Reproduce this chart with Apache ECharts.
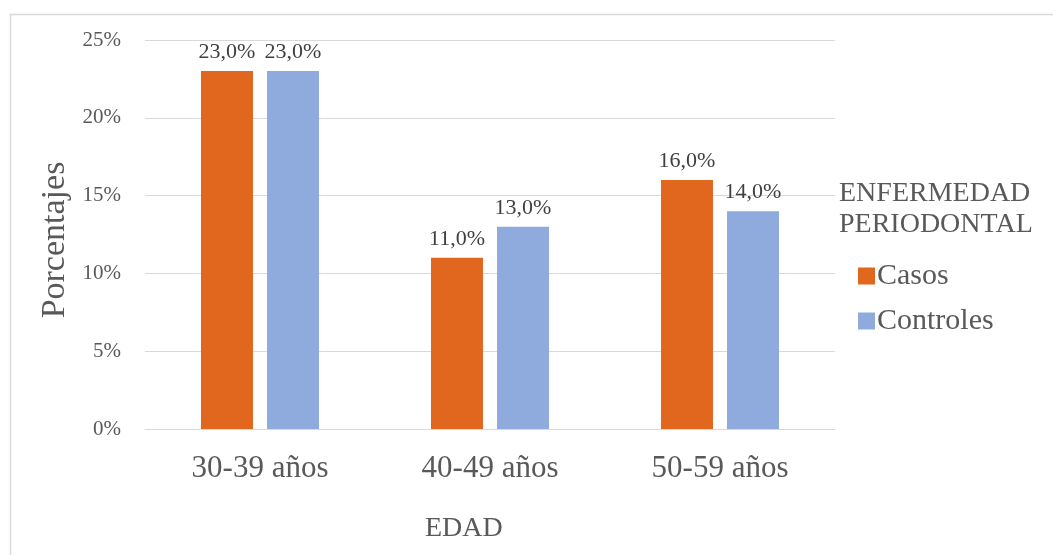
<!DOCTYPE html>
<html>
<head>
<meta charset="utf-8">
<style>
  html, body { margin: 0; padding: 0; background: #ffffff; }
  #chart { width: 1053px; height: 555px; }
</style>
<script src="https://cdn.jsdelivr.net/npm/echarts@6/dist/echarts.min.js"></script>
</head>
<body>
<div id="chart"></div>
<script>
// Age groups and share of each group (percent)
const categories = ['30-39 años', '40-49 años', '50-59 años'];
const casos = [23.0, 11.0, 16.0];
const controles = [23.0, 13.0, 14.0];
const yTicks = [0, 5, 10, 15, 20, 25];

const FONT = '"Liberation Serif", "Times New Roman", serif';
const TEXT = '#595959';

const chart = echarts.init(document.getElementById('chart'), null, { renderer: 'canvas' });

const valueLabel = {
  show: true,
  position: 'top',
  distance: 8,
  color: '#404040',
  fontFamily: FONT,
  fontSize: 22,
  formatter: p => p.value.toFixed(1).replace('.', ',') + '%'
};

chart.setOption({
  backgroundColor: '#ffffff',
  animation: false,
  grid: { left: 145, right: 218, top: 40, bottom: 126, containLabel: false },
  xAxis: {
    type: 'category',
    data: categories,
    axisLine: { show: true, lineStyle: { color: '#D9D9D9', width: 1 } },
    axisTick: { show: false },
    axisLabel: { color: TEXT, fontFamily: FONT, fontSize: 31, margin: 24 }
  },
  yAxis: {
    type: 'value',
    min: yTicks[0],
    max: yTicks[yTicks.length - 1],
    interval: yTicks[1] - yTicks[0],
    axisLine: { show: false },
    axisTick: { show: false },
    splitLine: { lineStyle: { color: '#D9D9D9', width: 1 } },
    axisLabel: { color: TEXT, fontFamily: FONT, fontSize: 21, margin: 24, formatter: v => v + '%' }
  },
  legend: {
    orient: 'vertical',
    left: 853,
    top: 254,
    itemWidth: 17,
    itemHeight: 17,
    itemGap: 11,
    icon: 'rect',
    textStyle: { color: TEXT, fontFamily: FONT, fontSize: 30, lineHeight: 34, padding: [0, 0, 0, -3] },
    data: ['Casos', 'Controles']
  },
  graphic: [
    {
      type: 'rect',
      shape: { x: 10.5, y: 14.5, width: 1100, height: 600 },
      style: { fill: 'none', stroke: '#D9D9D9', lineWidth: 1.5 },
      silent: true, z: -10
    },
    {
      type: 'text',
      left: 839, top: 178,
      style: { text: 'ENFERMEDAD\nPERIODONTAL', fill: TEXT, font: '28px ' + FONT, lineHeight: 31 }
    },
    {
      type: 'text',
      left: 425, top: 515,
      style: { text: 'EDAD', fill: TEXT, font: '28px ' + FONT }
    },
    {
      type: 'text',
      x: 38, y: 240,
      rotation: Math.PI / 2,
      style: { text: 'Porcentajes', fill: TEXT, font: '34px ' + FONT, align: 'center', verticalAlign: 'top' }
    }
  ],
  series: [
    {
      name: 'Casos',
      type: 'bar',
      data: casos,
      barWidth: 52,
      barGap: '27%',
      itemStyle: { color: '#E2671E' },
      label: valueLabel
    },
    {
      name: 'Controles',
      type: 'bar',
      data: controles,
      barWidth: 52,
      barGap: '27%',
      itemStyle: { color: '#8FAADC' },
      label: valueLabel
    }
  ]
});
</script>
</body>
</html>
